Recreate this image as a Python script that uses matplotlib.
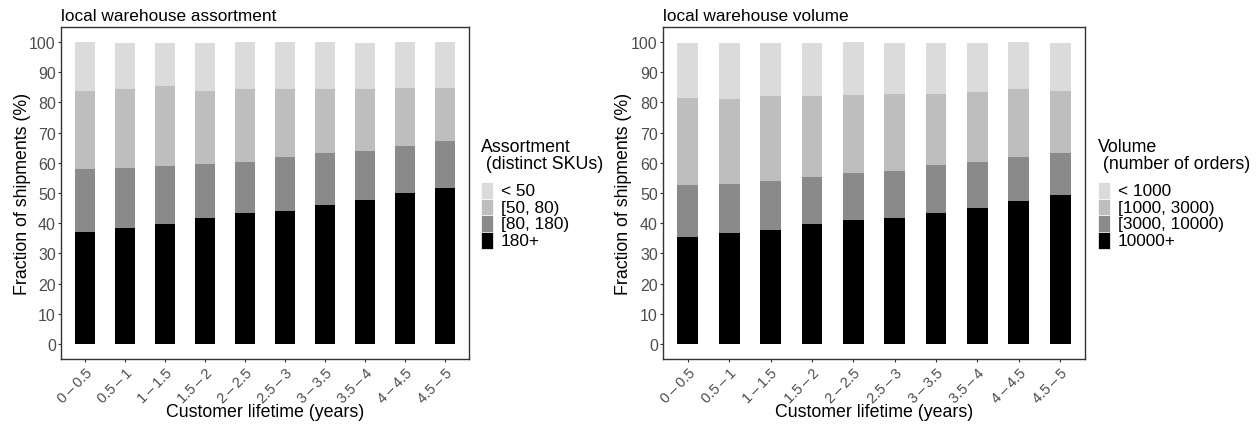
import matplotlib
matplotlib.use("Agg")
import matplotlib.pyplot as plt
from matplotlib.patches import Rectangle
import numpy as np

plt.rcParams['font.family'] = ['Liberation Sans', 'DejaVu Sans']

lifetimes = ["0\u2009\u2013\u20090.5", "0.5\u2009\u2013\u20091", "1\u2009\u2013\u20091.5",
             "1.5\u2009\u2013\u20092", "2\u2009\u2013\u20092.5", "2.5\u2009\u2013\u20093",
             "3\u2009\u2013\u20093.5", "3.5\u2009\u2013\u20094", "4\u2009\u2013\u20094.5",
             "4.5\u2009\u2013\u20095"]

# Assortment panel (bottom to top)
assort_labels = ["180+", "[80, 180)", "[50, 80)", "< 50"]
assort_180p = [37.1, 38.5, 39.8, 41.8, 43.4, 44.1, 46.0, 47.7, 50.0, 51.6]
assort_80_180 = [20.8, 19.7, 19.1, 17.8, 16.9, 17.8, 17.2, 16.2, 15.5, 15.5]
assort_50_80 = [26.0, 26.1, 26.4, 24.3, 24.0, 22.4, 21.4, 20.4, 19.4, 17.8]
assort_lt50 = [16.1, 15.5, 14.5, 15.9, 15.8, 15.7, 15.4, 15.5, 15.1, 15.1]

# Volume panel (bottom to top)
volume_labels = ["10000+", "[3000, 10000)", "[1000, 3000)", "< 1000"]
vol_10000p = [35.5, 36.8, 37.8, 39.8, 41.1, 41.8, 43.4, 45.1, 47.4, 49.3]
vol_3000_10000 = [17.1, 16.2, 16.2, 15.5, 15.5, 15.4, 15.9, 15.2, 14.5, 13.9]
vol_1000_3000 = [29.0, 28.3, 28.0, 27.0, 26.0, 25.7, 23.6, 23.0, 22.7, 20.7]
vol_lt1000 = [18.2, 18.5, 17.8, 17.5, 17.4, 16.9, 16.9, 16.5, 15.4, 15.9]

colors = ["#000000", "#8A8A8A", "#BEBEBE", "#DBDBDB"]

W, H = 1260, 427
fig = plt.figure(figsize=(W / 100, H / 100), dpi=100)

def fx(px):
    return px / W

def fy(py):
    return 1 - py / H

panels = [
    dict(left=61, right=469, title="local warehouse assortment",
         series=[assort_180p, assort_80_180, assort_50_80, assort_lt50],
         labels=assort_labels, ltitle="Assortment\n (distinct SKUs)",
         lx=481, ylx=23),
    dict(left=663, right=1085, title="local warehouse volume",
         series=[vol_10000p, vol_3000_10000, vol_1000_3000, vol_lt1000],
         labels=volume_labels, ltitle="Volume\n (number of orders)",
         lx=1098, ylx=623),
]

top, bottom = 28, 360
tick_grey = "#4D4D4D"

for p in panels:
    ax = fig.add_axes([fx(p['left']), fy(bottom), fx(p['right'] - p['left']), (bottom - top) / H])
    x = np.arange(1, len(lifetimes) + 1)
    base = np.zeros(len(lifetimes))
    for vals, c in zip(p['series'], colors):
        ax.bar(x, vals, width=0.5, bottom=base, color=c, linewidth=0)
        base = base + np.array(vals)
    ax.set_xlim(0.4, 10.6)
    ax.set_ylim(-5, 105)
    ax.set_yticks(np.arange(0, 101, 10))
    ax.set_xticks(x)
    ax.set_xticklabels(lifetimes, rotation=45, ha='right', va='top', rotation_mode='anchor')
    ax.tick_params(axis='both', colors='#333333', labelcolor=tick_grey, labelsize=11.5,
                   length=2.2, width=0.8)
    ax.tick_params(axis='x', labelsize=10.5, pad=2.5)
    ax.tick_params(axis='y', pad=1.5)
    for s in ax.spines.values():
        s.set_color('#333333')
        s.set_linewidth(1.0)
    ax.set_title(p['title'], loc='left', fontsize=12.4, pad=5)
    fig.text(fx((p['left'] + p['right']) / 2), fy(413), "Customer lifetime (years)",
             ha='center', va='center', fontsize=12.8)
    fig.text(fx(p['ylx']), fy((top + bottom) / 2), "Fraction of shipments (%)",
             rotation=90, ha='center', va='center', fontsize=12.8)

    # legend
    lx = p['lx']
    fig.text(fx(lx), fy(139), p['ltitle'], ha='left', va='top', fontsize=12.8, linespacing=1.0)
    key_top = 183
    key_h = 16.7
    key_w = 11.5
    for i, (lab, c) in enumerate(zip(reversed(p['labels']), reversed(colors))):
        y0 = key_top + i * key_h
        fig.patches.append(Rectangle((fx(lx), fy(y0 + key_h)), fx(key_w), key_h / H,
                                     transform=fig.transFigure, facecolor=c,
                                     edgecolor='white', linewidth=0.5))
        fig.text(fx(lx + key_w + 8.5), fy(y0 + key_h / 2), lab, ha='left', va='center',
                 fontsize=12.4)

fig.savefig("out.png", dpi=100)
